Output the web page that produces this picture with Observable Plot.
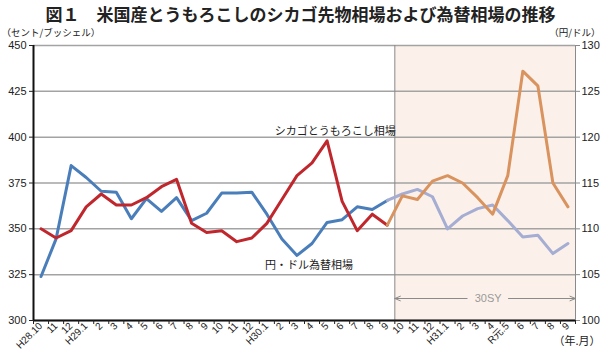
<!DOCTYPE html>
<html><head><meta charset="utf-8">
<script src="https://cdn.jsdelivr.net/npm/d3@7"></script>
<script src="https://cdn.jsdelivr.net/npm/@observablehq/plot@0.6"></script>
<style>body{margin:0;background:#fff} svg{display:block}</style>
</head><body><div id="chart"></div>
<script>
const months = ["H28.10","11","12","H29.1","2","3","4","5","6","7","8","9","10","11","12","H30.1","2","3","4","5","6","7","8","9","10","11","12","H31.1","2","3","4","R元.5","6","7","8","9"];
// シカゴとうもろこし先物 (セント/ブッシェル)
const corn = [350,345,349,362,369,363,363,367,373,377,353,348,349,343,345,353,366,379,386,398,365,349,358,352,368,366,376,379,375,367,358,379,436,428,375,362];
// 円・ドル為替 (円/ドル)
const yen = [104.8,108.9,116.9,115.6,114.1,114.0,111.1,113.3,111.9,113.4,110.9,111.7,113.9,113.9,114.0,111.6,108.9,107.1,108.4,110.7,111.0,112.4,112.1,113.1,113.8,114.3,113.5,110.0,111.4,112.2,112.6,110.9,109.1,109.3,107.3,108.4];
const lastActual = 23;          // H30.9; 30SY begins at H30.10
const leftTicks = [300,325,350,375,400,425,450];
const rightTicks = [100,105,110,115,120,125,130];

const toLeft = v => 300 + (v - 100) * 5;   // 円/ドル → left scale
const rows = months.map((m, i) => ({i, m, corn: corn[i], yen: yen[i]}));
const past = rows.filter(d => d.i <= lastActual);
const future = rows.filter(d => d.i >= lastActual);
const nMonths = months.length;

const font = "'Liberation Sans', 'Noto Sans CJK JP', sans-serif";
const jp = "'Noto Sans CJK JP', sans-serif";

const chart = Plot.plot({
  width: 602, height: 356,
  marginLeft: 33, marginRight: 27, marginTop: 45, marginBottom: 36,
  style: {fontFamily: font, fontSize: "11px", background: "#fff", color: "#222"},
  x: {domain: [0, nMonths]},
  y: {domain: [300, 450]},
  marks: [
    Plot.rect([0], {x1: lastActual + 1, x2: nMonths, y1: 300, y2: 450, fill: "#fcf1ea"}),
    Plot.ruleY(leftTicks, {stroke: "#a3a3a3", strokeWidth: 1.5}),
    Plot.ruleX([lastActual + 1], {stroke: "#8a8a8a", strokeWidth: 1}),
    Plot.ruleX([nMonths], {stroke: "#8a8a8a", strokeWidth: 1}),
    Plot.line(past, {x: d => d.i + 0.5, y: d => toLeft(d.yen), stroke: "#4a7ebb", strokeWidth: 3}),
    Plot.line(future, {x: d => d.i + 0.5, y: d => toLeft(d.yen), stroke: "#a5add3", strokeWidth: 3}),
    Plot.line(past, {x: d => d.i + 0.5, y: "corn", stroke: "#c0272d", strokeWidth: 3}),
    Plot.line(future, {x: d => d.i + 0.5, y: "corn", stroke: "#d9935f", strokeWidth: 3}),
    Plot.ruleX([0], {stroke: "#111", strokeWidth: 2}),
    Plot.ruleY([300], {stroke: "#111", strokeWidth: 2}),
    Plot.axisY(leftTicks, {anchor: "left", tickSize: 4, tickPadding: 3, fontSize: 11, label: null}),
    Plot.axisY(leftTicks, {anchor: "right", tickSize: 4, tickPadding: 2, fontSize: 11, stroke: "#8a8a8a", label: null,
      tickFormat: d => String(rightTicks[leftTicks.indexOf(d)])}),
    Plot.axisX(d3.range(0, nMonths + 1), {anchor: "bottom", tickSize: 4, tickFormat: () => "", label: null}),
    Plot.text(rows, {x: d => d.i + 0.5, text: "m", frameAnchor: "bottom", rotate: -45, textAnchor: "end", dx: 2, dy: 6, fontSize: 10}),
    // annotations
    Plot.text(["シカゴとうもろこし相場"], {x: 20.05, y: 403, fontFamily: jp, fontSize: 11}),
    Plot.text(["円・ドル為替相場"], {x: 18.3, y: 330, fontFamily: jp, fontSize: 11}),
    Plot.arrow([{a: 28.8, b: lastActual + 1}, {a: 31.55, b: nMonths}], {x1: "a", x2: "b", y1: 312, y2: 312, stroke: "#8a8a8a", strokeWidth: 1, headAngle: 45, headLength: 9}),
    Plot.text(["30SY"], {x: 30.2, y: 312, fill: "#999", fontSize: 11}),
    Plot.text(["図１　米国産とうもろこしのシカゴ先物相場および為替相場の推移"], {frameAnchor: "top-left", textAnchor: "start", dx: 12, dy: -37, fontFamily: jp, fontSize: 17, fontWeight: "bold", fill: "#222"}),
    Plot.text(["（セント/ブッシェル）"], {frameAnchor: "top-left", textAnchor: "start", dx: -32, dy: -16, fontFamily: jp, fontSize: 9.5}),
    Plot.text(["（円/ドル）"], {frameAnchor: "top-right", textAnchor: "end", dx: 25, dy: -16, fontFamily: jp, fontSize: 9.5}),
    Plot.text(["（年.月）"], {frameAnchor: "bottom-right", textAnchor: "end", dx: 25, dy: 24, fontFamily: jp, fontSize: 11})
  ]
});
document.getElementById("chart").appendChild(chart);
</script></body></html>
